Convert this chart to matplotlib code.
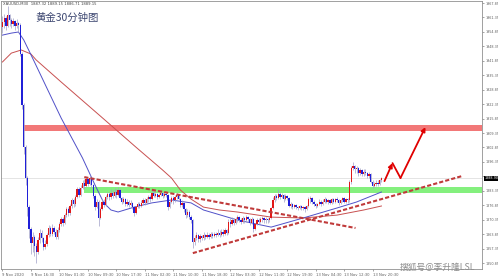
import matplotlib
matplotlib.use("Agg")
import matplotlib.pyplot as plt
import numpy as np

# XAUUSD M30 candles, 9-13 Nov 2020
first_open = 1957.0
closes = [1959.5, 1961.2, 1957.6, 1962.4, 1960.0, 1958.6, 1959.8, 1957.5, 1958.9, 1957.8,
          1945.0, 1922.0, 1903.0, 1889.0, 1876.0, 1866.0, 1860.0, 1862.5,
          1858.5, 1856.0, 1861.0, 1864.5, 1862.0, 1858.0, 1859.5, 1863.5, 1866.5, 1864.0, 1866.8, 1865.0, 1862.5, 1865.5,
          1868.5, 1870.5, 1869.0, 1872.5, 1875.0, 1873.5, 1876.5, 1879.0, 1877.5, 1880.5,
          1884.0, 1881.5, 1884.5,
          1887.0, 1885.5, 1888.5, 1886.5, 1889.0, 1886.0,
          1881.0, 1876.0, 1878.5, 1871.0, 1875.0,
          1878.5, 1877.0, 1880.5, 1882.0, 1880.5, 1882.5, 1881.0, 1883.0, 1881.5,
          1883.5, 1880.0, 1878.5, 1879.5,
          1877.5, 1878.5, 1877.0, 1878.0, 1876.0,
          1873.5, 1876.0,
          1877.5, 1876.5, 1878.0, 1879.0, 1878.0, 1879.5, 1880.5, 1879.5,
          1882.5, 1881.0, 1882.0, 1880.5, 1881.5, 1882.5, 1881.0, 1882.0,
          1881.5, 1876.0, 1878.5, 1880.0,
          1879.0, 1880.5, 1881.5, 1879.5, 1877.0, 1878.0,
          1875.0, 1872.5, 1874.0, 1871.5, 1870.0,
          1860.5,
          1862.0, 1863.5, 1861.5, 1863.0, 1862.0, 1863.5,
          1862.5, 1863.5, 1862.5, 1864.0, 1863.0, 1864.0, 1863.5, 1864.5, 1863.5, 1865.0, 1864.0, 1865.5, 1864.5,
          1869.5, 1868.5,
          1870.0, 1869.0, 1870.5, 1871.5, 1870.0, 1869.5, 1871.0, 1870.0, 1871.5, 1870.5, 1869.0, 1870.5,
          1866.0, 1868.5,
          1870.0, 1869.5, 1870.5, 1871.0, 1870.0, 1870.5, 1870.0, 1871.0,
          1875.5, 1879.0,
          1881.0, 1880.0, 1882.0, 1880.5, 1881.5, 1879.5, 1881.0, 1880.0,
          1876.5, 1877.5,
          1876.0, 1877.0, 1876.0, 1875.5, 1876.5, 1875.5, 1876.0, 1875.0, 1876.5,
          1879.5, 1880.0, 1878.5,
          1877.5, 1876.5, 1877.5, 1878.5, 1877.5, 1878.5,
          1879.5, 1878.5, 1879.0, 1878.0, 1879.5, 1878.5, 1879.5, 1879.0, 1878.0, 1879.0, 1880.0, 1878.5, 1879.5, 1879.0,
          1887.5, 1893.5,
          1894.5, 1893.0, 1893.5,
          1891.5, 1892.5, 1891.0, 1892.0, 1891.5, 1890.0, 1891.0,
          1887.5, 1885.5, 1886.5,
          1887.0, 1886.5, 1888.0, 1888.9]
highs = [1962.0, 1963.0, 1962.0, 1966.5, 1963.0, 1961.0, 1961.0, 1960.0, 1960.5, 1959.5,
         1959.0, 1946.0, 1923.0, 1904.0, 1890.0, 1877.0, 1867.0, 1865.0,
         1863.5, 1860.0, 1862.5, 1866.0, 1865.5, 1862.5, 1861.0, 1864.5, 1868.0, 1867.5, 1868.5, 1867.5, 1866.0, 1867.0,
         1869.5, 1871.5, 1871.5, 1873.5, 1876.0, 1876.0, 1877.5, 1880.0, 1880.0, 1881.5,
         1885.0, 1885.0, 1886.0,
         1888.0, 1888.5, 1889.5, 1889.0, 1890.5, 1889.5,
         1886.5, 1882.0, 1879.5, 1879.0, 1876.0,
         1879.5, 1879.5, 1881.5, 1883.0, 1883.0, 1884.0, 1883.5, 1884.5, 1884.0,
         1885.0, 1884.0, 1880.5, 1880.5,
         1880.0, 1879.5, 1879.0, 1879.0, 1878.5,
         1876.5, 1876.5,
         1878.5, 1878.5, 1879.0, 1880.0, 1880.0, 1880.5, 1881.5, 1881.5,
         1883.5, 1883.5, 1883.0, 1882.5, 1882.5, 1883.5, 1883.0, 1883.0,
         1883.0, 1882.0, 1879.0, 1881.0,
         1881.0, 1881.5, 1882.5, 1882.0, 1880.0, 1879.0,
         1878.5, 1875.5, 1875.0, 1874.5, 1872.5,
         1870.5,
         1863.5, 1865.0, 1864.0, 1864.0, 1863.5, 1865.0,
         1864.0, 1865.0, 1864.5, 1865.0, 1865.0, 1865.0, 1865.0, 1866.0, 1865.5, 1866.0, 1866.0, 1866.5, 1866.0,
         1870.5, 1871.0,
         1871.5, 1871.0, 1871.5, 1872.5, 1872.0, 1871.0, 1872.0, 1871.5, 1872.5, 1872.0, 1871.0, 1871.5,
         1871.0, 1869.0,
         1871.0, 1871.0, 1871.5, 1872.0, 1871.5, 1871.5, 1871.0, 1872.0,
         1876.0, 1880.5,
         1882.0, 1882.0, 1884.0, 1883.0, 1882.5, 1882.0, 1882.0, 1881.5,
         1880.5, 1878.5,
         1878.0, 1877.5, 1877.5, 1876.5, 1877.0, 1877.0, 1876.5, 1876.5, 1877.0,
         1880.5, 1881.0, 1880.5,
         1879.0, 1878.0, 1878.0, 1879.5, 1879.0, 1879.5,
         1880.5, 1880.0, 1879.5, 1879.5, 1880.0, 1880.0, 1880.0, 1880.5, 1879.5, 1879.5, 1880.5, 1880.5, 1880.0, 1880.0,
         1888.0, 1894.5,
         1896.5, 1895.0, 1894.5,
         1894.0, 1893.5, 1893.0, 1893.0, 1893.0, 1892.0, 1892.0,
         1891.5, 1888.0, 1887.5,
         1888.0, 1888.0, 1888.5, 1889.5]
lows = [1954.5, 1956.5, 1955.5, 1957.0, 1957.5, 1956.5, 1957.5, 1955.8, 1956.5, 1955.0,
        1944.0, 1920.0, 1900.0, 1886.0, 1872.0, 1862.0, 1855.0, 1856.0,
        1854.0, 1851.0, 1855.0, 1860.0, 1860.5, 1856.5, 1857.0, 1858.5, 1862.5, 1863.0, 1863.0, 1864.0, 1861.5, 1861.5,
        1865.0, 1867.5, 1867.5, 1868.5, 1871.5, 1872.0, 1872.5, 1875.5, 1876.0, 1876.5,
        1880.0, 1880.5, 1880.8,
        1884.0, 1884.0, 1885.0, 1885.5, 1886.0, 1884.5,
        1880.0, 1874.5, 1875.5, 1867.5, 1870.5,
        1874.5, 1876.0, 1876.5, 1879.5, 1879.0, 1879.5, 1880.0, 1880.5, 1880.0,
        1881.0, 1879.5, 1877.5, 1877.8,
        1876.5, 1876.5, 1876.0, 1876.5, 1875.0,
        1872.0, 1873.0,
        1875.5, 1875.5, 1876.0, 1877.5, 1877.0, 1877.5, 1878.5, 1878.5,
        1879.0, 1880.5, 1880.5, 1879.5, 1880.0, 1881.0, 1880.0, 1880.5,
        1880.5, 1874.5, 1875.5, 1878.0,
        1877.5, 1878.5, 1879.5, 1879.0, 1876.0, 1876.0,
        1874.0, 1871.0, 1871.5, 1870.5, 1869.0,
        1857.5,
        1859.0, 1861.0, 1860.5, 1860.5, 1861.0, 1861.0,
        1861.5, 1862.0, 1861.5, 1862.0, 1862.0, 1862.5, 1862.5, 1863.0, 1862.5, 1863.0, 1863.0, 1863.5, 1863.5,
        1864.0, 1867.0,
        1868.0, 1868.0, 1868.5, 1869.5, 1869.5, 1868.5, 1869.0, 1869.0, 1869.5, 1869.5, 1868.0, 1868.5,
        1865.0, 1865.5,
        1868.0, 1868.5, 1869.0, 1869.5, 1869.0, 1869.0, 1869.0, 1869.5,
        1870.5, 1875.0,
        1878.5, 1879.0, 1879.5, 1879.5, 1880.0, 1878.5, 1879.0, 1879.0,
        1876.0, 1875.5,
        1875.0, 1875.5, 1875.0, 1874.5, 1875.0, 1874.5, 1874.5, 1874.0, 1874.5,
        1876.0, 1878.0, 1877.5,
        1876.5, 1875.5, 1876.0, 1877.0, 1876.5, 1877.0,
        1878.0, 1878.0, 1877.5, 1877.5, 1877.5, 1878.0, 1878.0, 1878.5, 1877.0, 1877.5, 1878.5, 1878.0, 1878.0, 1878.0,
        1878.5, 1886.5,
        1892.5, 1891.5, 1891.5,
        1890.0, 1890.5, 1890.0, 1890.0, 1890.5, 1889.0, 1889.0,
        1887.0, 1884.8, 1885.0,
        1885.5, 1885.5, 1886.0, 1887.5]

# moving averages, sampled points (bar index, price)
blue_ma_bars = [0, 5, 9, 12, 18, 33, 45, 52, 57, 61, 65, 74, 84, 95, 106, 113, 132, 151, 169, 188, 199, 213]
blue_ma = [1953.4, 1954.3, 1954.8, 1951.2, 1941.3, 1916.1, 1898.1, 1886.0, 1877.9, 1874.7, 1873.8,
           1876.0, 1877.9, 1879.2, 1877.9, 1874.7, 1870.2, 1867.0, 1871.1, 1875.6, 1878.3, 1882.8]
red_ma_bars = [0, 5, 10.6, 16, 19, 33, 55, 75, 90, 95, 100, 106, 113, 122, 132, 151, 169, 188, 203, 213]
red_ma = [1941.3, 1945.3, 1946.7, 1944.9, 1942.2, 1932.3, 1917.0, 1903.0, 1892.7, 1889.1, 1883.7,
          1879.6, 1876.0, 1874.7, 1873.8, 1871.5, 1871.1, 1872.4, 1874.7, 1876.5]

# drawn objects
resist_zone = (1910.25, 1912.95)
support_zone = (1882.35, 1885.05)
down_line = ([46, 198.4], [1889.5, 1866.6])
up_line = ([107, 258.4], [1855.3, 1890.0])
arrow1 = ([214.7, 219.2], [1887.7, 1895.8])
arrow2 = ([219.2, 223.7, 237.7], [1895.8, 1889.1, 1912.0])

price_ticks = [1967.85, 1961.35, 1954.85, 1948.35, 1941.85, 1935.35, 1928.85, 1922.35, 1915.85,
               1909.35, 1902.85, 1896.35, 1889.85, 1883.35, 1876.85, 1870.35, 1863.85, 1857.35, 1850.85]
time_ticks = [0, 16, 32, 48, 64, 80, 96, 112, 128, 144, 160, 176, 192, 208]
time_labels = ["9 Nov 2020", "9 Nov 16:30", "10 Nov 01:30", "10 Nov 09:30", "10 Nov 17:30",
               "11 Nov 02:30", "11 Nov 10:30", "11 Nov 18:30", "12 Nov 03:30", "12 Nov 11:30",
               "12 Nov 19:30", "13 Nov 04:30", "13 Nov 12:30", "13 Nov 20:30"]
last_price = 1888.90

W, H = 498, 278
fig = plt.figure(figsize=(W / 100, H / 100), dpi=100)
ax = fig.add_axes([1 / W, 9 / H, 481 / W, 268 / H])
xmax = 269.5
ax.set_xlim(-0.8, xmax)
ax.set_ylim(1848.15, 1968.75)

# zones
ax.fill_between([11.8, xmax], resist_zone[0], resist_zone[1], color='#f27878', lw=0, zorder=1)
ax.fill_between([46, xmax], support_zone[0], support_zone[1], color='#84f07e', lw=0, zorder=1)
ax.axhline(last_price, color='#d0d0d0', lw=0.4, zorder=1)

# moving averages
ax.plot(red_ma_bars, red_ma, color='#c85050', lw=0.7, zorder=2)
ax.plot(blue_ma_bars, blue_ma, color='#5050c8', lw=0.7, zorder=2)

# candles
c = np.array(closes)
o = np.concatenate([[first_open], c[:-1]])
idx = np.arange(len(c))
up = c >= o
ax.vlines(idx, lows, highs, color='#a0a0c8', lw=0.5, zorder=3)
body = np.maximum(np.abs(c - o), 0.35)
ax.bar(idx, body, bottom=np.minimum(o, c), width=0.75,
       color=np.where(up, '#e01818', '#2020d8'), lw=0, zorder=4)

# trend lines
ax.plot(down_line[0], down_line[1], color='#c03a3a', lw=1.5, ls=(0, (2, 1)), zorder=5)
ax.plot(up_line[0], up_line[1], color='#c03a3a', lw=1.5, ls=(0, (2, 1)), zorder=5)

# forecast arrows
ap = dict(arrowstyle='-|>', color='#e00000', lw=1.3, mutation_scale=6, shrinkA=0, shrinkB=0)
ax.annotate('', xy=(arrow1[0][1], arrow1[1][1]), xytext=(arrow1[0][0], arrow1[1][0]), arrowprops=ap, zorder=6)
ax.plot(arrow2[0][:2], arrow2[1][:2], color='#e00000', lw=1.3, zorder=6, solid_capstyle='round')
ax.annotate('', xy=(arrow2[0][2], arrow2[1][2]), xytext=(arrow2[0][1], arrow2[1][1]), arrowprops=ap, zorder=6)

# axes styling
for s in ax.spines.values():
    s.set_color('#909090')
    s.set_linewidth(0.6)
ax.yaxis.tick_right()
ax.set_yticks(price_ticks)
# the tick under the current price box is hidden, like in the terminal
ax.set_yticklabels(['' if abs(p - last_price) < 2 else '%.2f' % p for p in price_ticks])
ax.set_xticks(time_ticks)
ax.set_xticklabels(time_labels)
for lbl in ax.get_xticklabels():
    lbl.set_ha('left')
ax.tick_params(axis='both', labelsize=2.4, colors='#606060', length=1.5, width=0.4, pad=0.8)
ax.tick_params(axis='x', labelsize=2.7, pad=1.5)

# current price box
ax.text(1.005, last_price, '%.2f' % last_price, transform=ax.get_yaxis_transform(),
        fontsize=2.4, color='white', va='center', ha='left',
        bbox=dict(boxstyle='square,pad=0.2', fc='black', ec='none'), zorder=7)

fig.text(3 / W, 1 - 4 / H, 'XAUUSD,M30  1887.32 1889.15 1886.71 1889.15', fontsize=2.7,
         color='#404040', va='center', ha='left')
fig.text(35 / W, 1 - 18 / H, '黄金30分钟图', fontsize=7.5, color='#3c4670',
         family=['Noto Sans CJK SC', 'DejaVu Sans'], va='center', ha='left')
fig.text(400 / W, 1 - 267 / H, '搜狐号@李升隆LSL', fontsize=6.3, color='#8c8c8c',
         family=['Noto Sans CJK SC', 'DejaVu Sans'], va='center', ha='left')

fig.savefig('out.png', dpi=100)
